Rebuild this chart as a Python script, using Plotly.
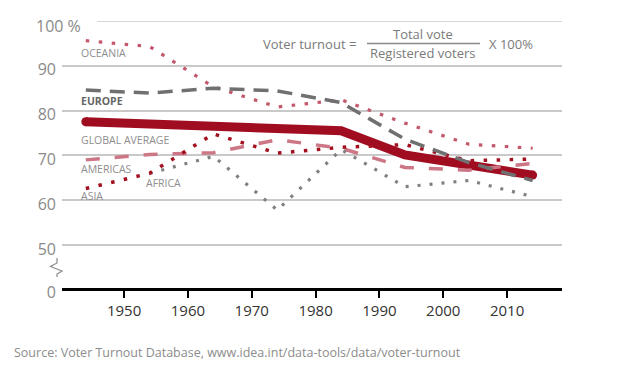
import plotly.graph_objects as go

# ---- data ----
YEARS = [1944, 1954, 1964, 1974, 1984, 1994, 2004, 2014]
GLOBAL_AVERAGE = [77.5, 76.9, 76.5, 76.1, 75.5, 70.1, 67.8, 65.6]
EUROPE = [84.6, 83.9, 85.0, 84.4, 81.8, 73.6, 68.4, 64.4]
OCEANIA = [95.6, 94.3, 85.3, 80.8, 82.4, 77.2, 72.5, 71.6]
AMERICAS = [69.0, 70.2, 70.6, 73.5, 71.6, 67.3, 66.7, 68.2]
ASIA = [62.6, 66.0, 74.8, 70.5, 71.8, 72.4, 68.8, 69.2]
AFRICA = [None, 66.0, 69.8, 57.8, 71.3, 63.0, 64.4, 60.8]

X_TICKS = [1950, 1960, 1970, 1980, 1990, 2000, 2010]
Y_TICKS = [40.4, 50, 60, 70, 80, 90]          # 40.4 = broken-axis floor shown as "0"
Y_TICK_TEXT = ["0", "50", "60", "70", "80", "90"]
TOP_TICK = 100
TOP_TICK_TEXT = "100 %"

# ---- layout helpers ----
# The page body has an 8px margin, so the figure is drawn 8px in from the
# top-left corner of the window; size and place everything accordingly.
PAGE_MARGIN = 8
WIN_W, WIN_H = 640, 366
W, H = WIN_W - PAGE_MARGIN, WIN_H - PAGE_MARGIN
L, R, T, B = 62 - PAGE_MARGIN, 78, 21 - PAGE_MARGIN, 78
PW, PH = W - L - R, H - T - B


def px(x):
    """window pixel x -> paper x"""
    return (x - PAGE_MARGIN - L) / PW


def py(y):
    """window pixel y -> paper y"""
    return (H - B - (y - PAGE_MARGIN)) / PH


FONT = "Open Sans"
LABEL_GREY = "#8e8e8e"
GLOBAL_RED = "#a10d20"

fig = go.Figure()

fig.add_trace(go.Scatter(
    x=YEARS, y=GLOBAL_AVERAGE, mode="lines",
    line=dict(color=GLOBAL_RED, width=9), name="Global average"))
# round end caps of the thick line
fig.add_trace(go.Scatter(
    x=[YEARS[0], YEARS[-1]], y=[GLOBAL_AVERAGE[0], GLOBAL_AVERAGE[-1]], mode="markers",
    marker=dict(color=GLOBAL_RED, size=9, opacity=1, line=dict(width=0)),
    hoverinfo="skip", name="caps"))
fig.add_trace(go.Scatter(
    x=YEARS, y=AMERICAS, mode="lines",
    line=dict(color="#cd7686", width=3.5, dash="14px,15px"), name="Americas"))
fig.add_trace(go.Scatter(
    x=YEARS, y=AFRICA, mode="lines",
    line=dict(color="#808080", width=3.2, dash="3px,9px"), name="Africa"))
fig.add_trace(go.Scatter(
    x=YEARS, y=ASIA, mode="lines",
    line=dict(color="#a3101f", width=3.5, dash="3.5px,9.5px"), name="Asia"))
fig.add_trace(go.Scatter(
    x=YEARS, y=OCEANIA, mode="lines",
    line=dict(color="#c4596c", width=3.2, dash="3.5px,9.5px"), name="Oceania"))
fig.add_trace(go.Scatter(
    x=YEARS, y=EUROPE, mode="lines",
    line=dict(color="#707070", width=3.5, dash="15px,9px"), name="Europe"))

annotations = []


def label(text, x, y, color=LABEL_GREY, size=10.5, bold=False, anchor="left"):
    t = f"<b>{text}</b>" if bold else text
    annotations.append(dict(text=t, x=px(x), y=py(y), xref="paper", yref="paper",
                            xanchor=anchor, yanchor="middle", showarrow=False,
                            font=dict(family=FONT, size=size, color=color)))


label("OCEANIA", 79, 53.5)
label("EUROPE", 79, 101, color="#666666", bold=True)
label("GLOBAL AVERAGE", 79, 139.5)
label("AMERICAS", 79, 168.5)
label("ASIA", 79, 196)
label("AFRICA", 144, 183)

# top tick label
label(TOP_TICK_TEXT, 83, 26, color="#8a8a8a", size=16, anchor="right")

# formula
label("Voter turnout =", 358, 43.5, color="#7a7a7a", size=13, anchor="right")
label("Total vote", 423, 34, color="#7a7a7a", size=13, anchor="center")
label("Registered voters", 423, 53.5, color="#7a7a7a", size=13, anchor="center")
label("X 100%", 487, 43.5, color="#7a7a7a", size=13)

# source
label("Source: Voter Turnout Database, www.idea.int/data-tools/data/voter-turnout",
      12, 352, color="#8c8c8c", size=12.5)

shapes = [
    # gridline at the top value, starting right of its label
    dict(type="line", xref="paper", yref="y", x0=px(97), x1=1, y0=TOP_TICK, y1=TOP_TICK,
         line=dict(color="#c9c9c9", width=1.5)),
    # fraction bar
    dict(type="line", xref="paper", yref="paper", x0=px(367), x1=px(480),
         y0=py(43.5), y1=py(43.5), line=dict(color="#8a8a8a", width=1.5)),
    # axis-break squiggle
    dict(type="path", xref="paper", yref="paper",
         path=(f"M{px(57)},{py(258)} L{px(57)},{py(263)} L{px(50.5)},{py(266.5)} "
               f"L{px(62)},{py(271)} L{px(57)},{py(274)} L{px(57)},{py(277)}"),
         line=dict(color="#8a8a8a", width=1.2)),
]

fig.update_layout(
    width=W, height=H,
    margin=dict(l=L, r=R, t=T, b=B),
    paper_bgcolor="white", plot_bgcolor="white",
    showlegend=False,
    annotations=annotations,
    shapes=shapes,
    xaxis=dict(range=[1940.27, 2018.6], tickvals=X_TICKS,
               ticks="outside", ticklen=7, tickwidth=1.5, tickcolor="black",
               showline=True, linecolor="black", linewidth=3,
               showgrid=False, zeroline=False,
               tickfont=dict(family=FONT, size=15, color="#333333")),
    yaxis=dict(range=[Y_TICKS[0], TOP_TICK], tickvals=Y_TICKS, ticktext=Y_TICK_TEXT,
               showgrid=True, gridcolor="#c9c9c9", gridwidth=1.5,
               showline=False, zeroline=False, ticks="",
               ticklabelshift=4, ticklabelstandoff=5,
               tickfont=dict(family=FONT, size=16, color="#8a8a8a")),
)

fig.write_html("out.html")
